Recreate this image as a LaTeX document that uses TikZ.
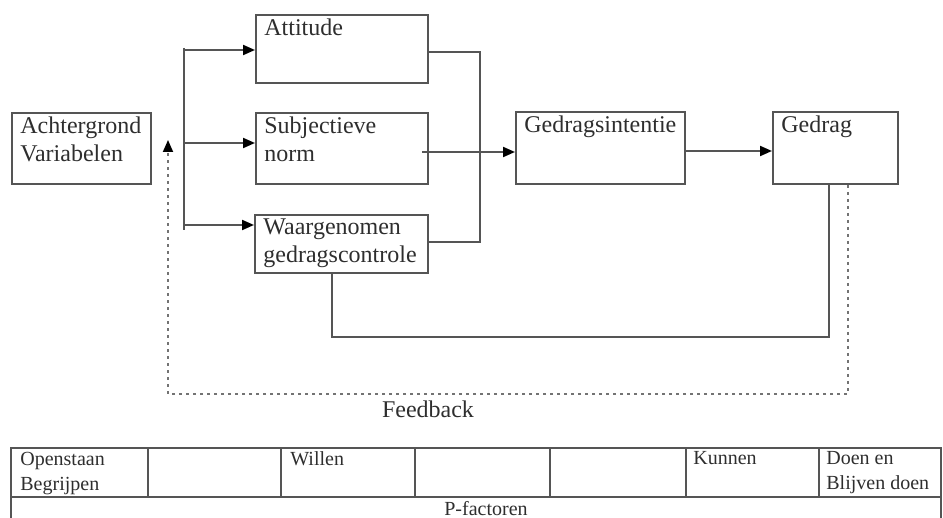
\documentclass[tikz,border=0pt]{standalone}
\usepackage{fontspec}
\setmainfont{Liberation Serif}
\usetikzlibrary{arrows.meta}
\definecolor{lijn}{HTML}{555555}
\definecolor{tekst}{HTML}{2E2E2E}

\tikzset{
  blok/.style={draw=lijn, line width=1pt, anchor=north west, inner sep=0pt},
  bloktekst/.style={anchor=north west, align=left, inner sep=0pt, text=tekst,
    font=\fontsize{12}{14}\selectfont, xshift=4.5pt, yshift=-2.3pt},
  pijl/.style={draw=lijn, line width=1pt, -{Triangle[length=6pt,width=5pt,color=black]}},
  verbinding/.style={draw=lijn, line width=1pt},
  terug/.style={draw=black!55, line width=0.9pt, dash pattern=on 1.5pt off 2pt,
    -{Triangle[length=6pt,width=5pt,color=black]}},
  tabel/.style={draw=lijn, line width=0.8pt},
  celtekst/.style={anchor=north west, align=left, inner sep=0pt, text=tekst,
    font=\fontsize{10}{12.5}\selectfont}
}

\begin{document}
\begin{tikzpicture}[x=1pt, y=-1pt]

    \useasboundingbox (0,0) rectangle (471.5,259);

    % Draw the boxes of the model
    \node[blok, minimum width=69.5pt, minimum height=35.5pt,
      label={[bloktekst]north west:{Achtergrond\\Variabelen}}] (achter) at (5.5,56) {};
    \node[blok, minimum width=86pt, minimum height=34pt,
      label={[bloktekst]north west:Attitude}] (att) at (127.5,7) {};
    \node[blok, minimum width=86pt, minimum height=35.5pt,
      label={[bloktekst]north west:{Subjectieve\\norm}}] (subj) at (127.5,56) {};
    \node[blok, minimum width=86.5pt, minimum height=29pt,
      label={[bloktekst]north west:{Waargenomen\\gedragscontrole}}] (waarg) at (127,107) {};
    \node[blok, minimum width=84.5pt, minimum height=36pt,
      label={[bloktekst]north west:Gedragsintentie}] (intentie) at (257.5,55.5) {};
    \node[blok, minimum width=62.5pt, minimum height=36pt,
      label={[bloktekst]north west:Gedrag}] (gedrag) at (386,55.5) {};

    % Draw the branch towards the three determinants
    \coordinate (takboven) at (92,24);
    \coordinate (takonder) at (92,115);
    \coordinate (t1) at (92,25);
    \coordinate (t2) at (92,71.5);
    \coordinate (t3) at (92,112.5);
    \draw[verbinding] (takboven) -- (takonder);
    \draw[pijl] (t1) -- (t1 -| att.west);
    \draw[pijl] (t2) -- (t2 -| subj.west);
    \draw[pijl] (t3) -- (t3 -| waarg.west);

    % Draw the collector line and the arrow to the intention
    \coordinate (verz1) at (240,26);
    \coordinate (verz2) at (240,121);
    \draw[verbinding] (verz1 -| att.east) -- (verz1) -- (verz2) -- (verz2 -| waarg.east);
    \coordinate (midden) at (211,76);
    \draw[pijl] (midden) -- (midden -| intentie.west);
    \draw[pijl] ([yshift=-1.5pt]intentie.east) -- ([yshift=-1.5pt]gedrag.west);

    % Draw the line from perceived control to behaviour
    \coordinate (ctrl1) at (166,168.5);
    \coordinate (ctrl2) at (414.5,168.5);
    \draw[verbinding] (ctrl1 |- waarg.south) -- (ctrl1) -- (ctrl2) -- (ctrl2 |- gedrag.south);

    % Draw the dotted feedback loop
    \coordinate (fbr) at (424,197);
    \coordinate (fbl) at (84,197);
    \coordinate (fbpunt) at (84,70);
    \draw[terug] (fbr |- gedrag.south) -- (fbr) -- (fbl) -- (fbpunt);
    \node[anchor=base, text=tekst, font=\fontsize{12}{14}\selectfont] (feedback) at (214,208.5) {Feedback};

    % Draw the table with the P-factors
    \draw[tabel] (5.5,259.5) -- (5.5,224) -- (470.5,224) -- (470.5,259.5);
    \draw[tabel] (5.5,248.5) -- (470.5,248.5);
    \foreach \x in {74,140.5,207.5,275,343,409.5}
      \draw[tabel] (\x,224) -- (\x,248.5);
    \node[celtekst] (open) at (10,225.7) {Openstaan\\Begrijpen};
    \node[celtekst] (willen) at (145,225.7) {Willen};
    \node[celtekst] (kunnen) at (346.5,225.7) {Kunnen};
    \node[celtekst] (doen) at (413,225.7) {Doen en\\Blijven doen};
    \node[anchor=base, text=tekst, font=\fontsize{10}{12.5}\selectfont] (pfac) at (243,257.5) {P-factoren};

\end{tikzpicture}
\end{document}
